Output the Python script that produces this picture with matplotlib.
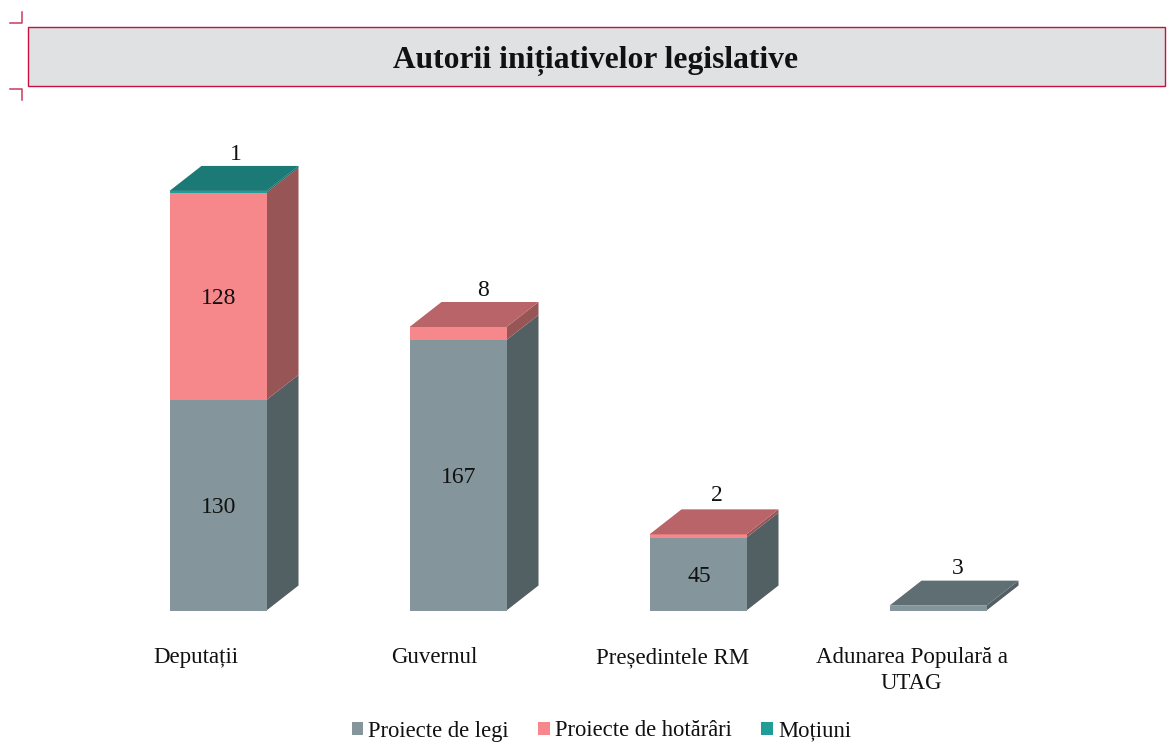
import matplotlib
matplotlib.use("Agg")
import matplotlib.pyplot as plt
from matplotlib.lines import Line2D
from matplotlib.patches import Patch, Rectangle

W, H = 1168, 743
categories = ["Deputații", "Guvernul", "Președintele RM", "Adunarea Populară a\nUTAG"]
series_names = ["Proiecte de legi", "Proiecte de hotărâri", "Moțiuni"]
legi = [130, 167, 45, 3]
hotarari = [128, 8, 2, 0]
motiuni = [1, 0, 0, 0]
title = "Autorii inițiativelor legislative"

front_colors = ["#84959b", "#f6888b", "#1f9d96"]
side_colors = ["#525f63", "#985555", "#146a66"]
top_colors = ["#5f6e72", "#b86468", "#1c7a76"]
text_color = "#111111"
red = "#c8103f"
FONT = "Liberation Serif"
plt.rcParams["font.family"] = [FONT, "DejaVu Serif"]

fig = plt.figure(figsize=(W / 100, H / 100), dpi=100, facecolor="white")
ax = fig.add_axes([98 / W, 1 - 610.5 / H, 960 / W, 490 / H])
ax.set_xlim(-0.5, 3.5)
ax.set_ylim(0, 490 / 1.62)
ax.patch.set_alpha(0)
for s in ax.spines.values():
    s.set_visible(False)
ax.set_yticks([])

bar_w = 97 / 240
dx = 32 / 240
dy = 25 / 1.62
series = [legi, hotarari, motiuni]

for i in range(len(categories)):
    bottom = 0
    x0 = i - bar_w / 2
    x1 = i + bar_w / 2
    top_idx = 0
    for k, vals in enumerate(series):
        v = vals[i]
        if v == 0:
            continue
        ax.bar(i, v, bar_w, bottom=bottom, color=front_colors[k], linewidth=0, zorder=3)
        ax.fill([x1, x1 + dx, x1 + dx, x1],
                [bottom, bottom + dy, bottom + v + dy, bottom + v],
                color=side_colors[k], linewidth=0, zorder=2)
        bottom += v
        top_idx = k
    ax.fill([x0, x1, x1 + dx, x0 + dx], [bottom, bottom, bottom + dy, bottom + dy],
            color=top_colors[top_idx], linewidth=0, zorder=4)

# Values inside the bars
for i, labels in [(0, (legi[0], hotarari[0])), (1, (legi[1],)), (2, (legi[2],))]:
    b = 0
    for v in labels:
        ax.annotate(str(v), (i, b + v / 2), xytext=(1, -2.5), textcoords="offset pixels",
                    ha="center", va="center", fontsize=17, color=text_color, zorder=6)
        b += v

# Small values above the bars
top_labels = [(0, motiuni[0], 18, 36), (1, hotarari[1], 25, 36), (2, hotarari[2], 19, 39), (3, legi[3], 20, 37)]
for i, v, off, up in top_labels:
    total = legi[i] + hotarari[i] + motiuni[i]
    ax.annotate(str(v), (i, total), xytext=(off, up), textcoords="offset pixels",
                ha="center", va="center", fontsize=17, color=text_color, zorder=6)

ax.set_xticks([i * 0.994 - 0.092 for i in range(len(categories))])
ax.set_xticklabels(categories, fontsize=16.5, color=text_color, linespacing=1.27)
ax.tick_params(axis="x", length=0, pad=26.5)

# Title box and crop marks
fig.add_artist(Rectangle((28 / W, 1 - 86 / H), 1137 / W, 59 / H, transform=fig.transFigure,
                         facecolor="#e0e1e3", edgecolor=red, linewidth=1.0))
fig.text(595.5 / W, 1 - 61 / H, title, ha="center", va="center", fontsize=22.7,
         fontweight="bold", color=text_color)
for xs, ys in [([10, 22, 22], [23, 23, 12]), ([10, 22, 22], [89, 89, 100])]:
    fig.add_artist(Line2D([x / W for x in xs], [1 - y / H for y in ys], color="#c93a5c",
                          linewidth=1.1, transform=fig.transFigure))

handles = [Patch(facecolor=c, edgecolor="none") for c in front_colors]
fig.legend(handles, series_names, loc="center", bbox_to_anchor=(601.5 / W, 1 - 731 / H),
           ncol=3, frameon=False, fontsize=16.3, handlelength=0.52, handleheight=0.52,
           handletextpad=0.22, columnspacing=1.3, labelcolor=text_color,
           borderpad=0, borderaxespad=0)

fig.savefig("out.png", dpi=100, facecolor="white")
